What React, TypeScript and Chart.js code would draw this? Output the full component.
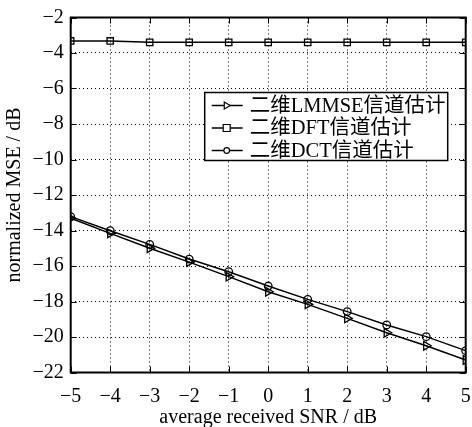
import React, { useEffect, useRef } from "react";
import { Chart, registerables } from "chart.js";

Chart.register(...registerables);

const snr = [-5, -4, -3, -2, -1, 0, 1, 2, 3, 4, 5];
const lmmse = [-13.31, -14.16, -15.0, -15.78, -16.6, -17.45, -18.16, -18.95, -19.76, -20.49, -21.3];
const dft = [-3.32, -3.32, -3.4, -3.4, -3.4, -3.4, -3.4, -3.4, -3.4, -3.4, -3.4];
const dct = [-13.22, -14.01, -14.78, -15.61, -16.32, -17.13, -17.88, -18.57, -19.32, -19.98, -20.77];
const seriesNames = ["二维LMMSE信道估计", "二维DFT信道估计", "二维DCT信道估计"];
const xTitle = "average received SNR / dB";
const yTitle = "normalized MSE / dB";

const SERIF = "'Liberation Serif', 'Times New Roman', serif";
const LEGEND_FONT = "'Liberation Serif', 'Noto Sans CJK SC', serif";

const fmt = (v: number) => (v < 0 ? "\u2212" + Math.abs(v) : String(v));

const framePlugin = {
  id: "frame",
  afterDraw(chart: any) {
    const { ctx, chartArea: a, scales } = chart;
    ctx.save();
    ctx.strokeStyle = "#000";
    ctx.lineWidth = 1;
    // inward ticks
    const tl = 6;
    scales.x.ticks.forEach((t: any) => {
      const px = Math.round(scales.x.getPixelForValue(t.value)) + 0.5;
      ctx.beginPath();
      ctx.moveTo(px, a.bottom);
      ctx.lineTo(px, a.bottom - tl);
      ctx.moveTo(px, a.top);
      ctx.lineTo(px, a.top + tl);
      ctx.stroke();
    });
    scales.y.ticks.forEach((t: any) => {
      const py = Math.round(scales.y.getPixelForValue(t.value)) + 0.5;
      ctx.beginPath();
      ctx.moveTo(a.left, py);
      ctx.lineTo(a.left + tl, py);
      ctx.moveTo(a.right, py);
      ctx.lineTo(a.right - tl, py);
      ctx.stroke();
    });
    ctx.lineWidth = 2;
    ctx.strokeRect(a.left, a.top, a.right - a.left, a.bottom - a.top);

    // legend box
    const bx = a.left + 134;
    const by = a.top + 75;
    const bw = 243;
    const bh = 68;
    ctx.fillStyle = "#fff";
    ctx.fillRect(bx, by, bw, bh);
    ctx.lineWidth = 1.5;
    ctx.strokeRect(bx, by, bw, bh);
    ctx.font = "20.5px " + LEGEND_FONT;
    ctx.textBaseline = "middle";
    ctx.textAlign = "left";
    chart.data.datasets.forEach((ds: any, i: number) => {
      const cy = by + 13 + i * 22.5;
      ctx.strokeStyle = "#000";
      ctx.lineWidth = 1.5;
      ctx.beginPath();
      ctx.moveTo(bx + 7, cy);
      ctx.lineTo(bx + 38, cy);
      ctx.stroke();
      ctx.lineWidth = 1.2;
      const cx = bx + 22;
      const r = 3.5;
      ctx.beginPath();
      if (ds.pointStyle === "triangle") {
        ctx.moveTo(cx + r, cy);
        ctx.lineTo(cx - r * 0.7, cy - r);
        ctx.lineTo(cx - r * 0.7, cy + r);
        ctx.closePath();
      } else if (ds.pointStyle === "rect") {
        ctx.rect(cx - r, cy - r, 2 * r, 2 * r);
      } else {
        ctx.arc(cx, cy, r * 0.8, 0, Math.PI * 2);
      }
      ctx.fillStyle = "#fff";
      ctx.fill();
      ctx.stroke();
      ctx.fillStyle = "#000";
      ctx.fillText(ds.label, bx + 45, cy + 1);
    });
    ctx.restore();
  },
};

function App() {
  const ref = useRef<HTMLCanvasElement | null>(null);
  useEffect(() => {
    if (!ref.current) return;
    const mk = (vals: number[]) => snr.map((x, i) => ({ x, y: vals[i] }));
    const common = {
      borderColor: "#000",
      borderWidth: 1.5,
      pointBorderColor: "#000",
      pointBackgroundColor: "rgba(255,255,255,0)",
      pointBorderWidth: 1.3,
      tension: 0,
      fill: false,
    };
    const chart = new Chart(ref.current, {
      type: "line",
      data: {
        datasets: [
          { ...common, label: seriesNames[0], data: mk(lmmse), pointStyle: "triangle", rotation: 90, pointRadius: 5 },
          { ...common, label: seriesNames[1], data: mk(dft), pointStyle: "rect", pointRadius: 4.5 },
          { ...common, label: seriesNames[2], data: mk(dct), pointStyle: "circle", pointRadius: 3.8 },
        ],
      },
      options: {
        animation: false,
        responsive: false,
        maintainAspectRatio: false,
        layout: { padding: { top: 17.5, right: 6, left: 0, bottom: 0 } },
        plugins: { legend: { display: false }, tooltip: { enabled: false } },
        scales: {
          x: {
            type: "linear",
            min: -5,
            max: 5,
            afterFit: (s: any) => {
              s.height = 54.5;
              s.paddingLeft = 0;
              s.paddingRight = 0;
            },
            ticks: {
              stepSize: 1,
              color: "#000",
              padding: 12,
              font: { family: SERIF, size: 20 },
              callback: (v: any) => fmt(Number(v)),
              maxRotation: 0,
            },
            grid: { color: "#000", lineWidth: 1, drawTicks: false },
            border: { display: false, dash: [1, 3] },
            title: {
              display: true,
              text: xTitle,
              color: "#000",
              font: { family: SERIF, size: 20, lineHeight: 1.0 },
              padding: { top: 0, bottom: -1 },
            },
          },
          y: {
            type: "linear",
            min: -22,
            max: -2,
            afterFit: (s: any) => {
              s.width = 70.7;
              s.paddingTop = 0;
              s.paddingBottom = 0;
            },
            ticks: {
              stepSize: 2,
              color: "#000",
              padding: 7,
              font: { family: SERIF, size: 20 },
              callback: (v: any) => fmt(Number(v)),
            },
            grid: { color: "#000", lineWidth: 1, drawTicks: false },
            border: { display: false, dash: [1, 3] },
            title: {
              display: true,
              text: yTitle,
              color: "#000",
              font: { family: SERIF, size: 20, lineHeight: 1.0 },
              padding: { top: 5, bottom: 0 },
            },
          },
        },
      },
      plugins: [framePlugin],
    } as any);
    return () => chart.destroy();
  }, []);
  return (
    <div style={{ position: "fixed", left: 0, top: 0, width: 472, height: 427, background: "#fff" }}>
      <canvas ref={ref} width={472} height={427} style={{ width: 472, height: 427 }} />
    </div>
  );
}

export default App;
